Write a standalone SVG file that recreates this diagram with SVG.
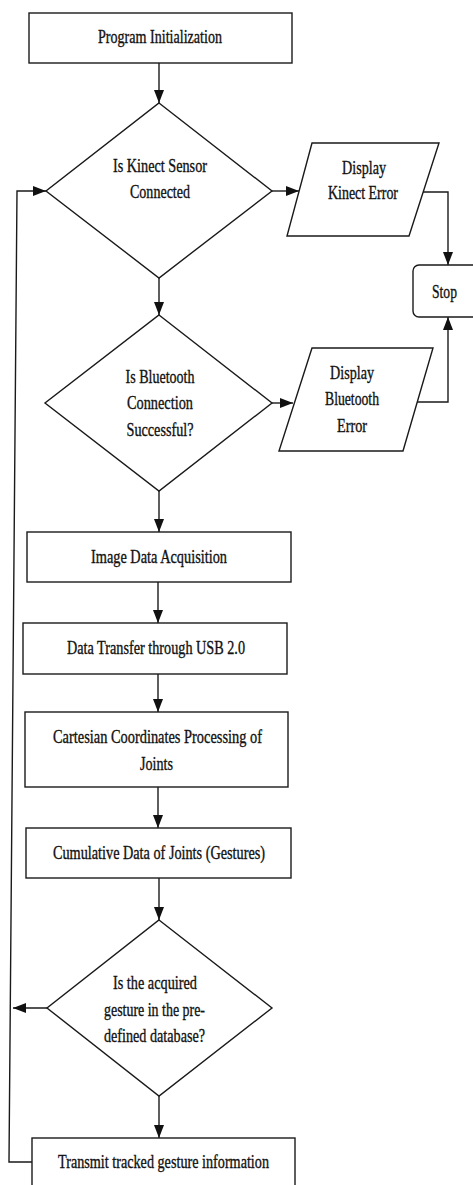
<svg xmlns="http://www.w3.org/2000/svg" width="473" height="1185" viewBox="0 0 473 1185">
<style>
.s{fill:#fff;stroke:#1a1a1a;stroke-width:1.4}
.c{fill:none;stroke:#1a1a1a;stroke-width:1.4}
.t{font-family:"Liberation Serif","Times New Roman",serif;font-size:19px;fill:#111;stroke:#111;stroke-width:0.35;text-anchor:middle}
</style>
<defs>
<marker id="ah" markerUnits="userSpaceOnUse" markerWidth="14" markerHeight="11" refX="13" refY="5" orient="auto">
<path d="M0,0 L13,5 L0,10 z" fill="#111"/>
</marker>
</defs>
<rect width="473" height="1185" fill="#fff"/>
<g id="connectors">
<line class="c" x1="159" y1="63" x2="159" y2="103" marker-end="url(#ah)"/>
<line class="c" x1="159" y1="278" x2="159" y2="315" marker-end="url(#ah)"/>
<line class="c" x1="272" y1="191" x2="299" y2="191" marker-end="url(#ah)"/>
<line class="c" x1="272" y1="403" x2="293" y2="403" marker-end="url(#ah)"/>
<polyline class="c" points="423,192 448,192 448,265" marker-end="url(#ah)"/>
<polyline class="c" points="417,402 448,402 448,317" marker-end="url(#ah)"/>
<line class="c" x1="159" y1="491" x2="159" y2="532" marker-end="url(#ah)"/>
<line class="c" x1="158" y1="582" x2="158" y2="623" marker-end="url(#ah)"/>
<line class="c" x1="158" y1="674" x2="158" y2="712" marker-end="url(#ah)"/>
<line class="c" x1="158" y1="787" x2="158" y2="828" marker-end="url(#ah)"/>
<line class="c" x1="159" y1="878" x2="159" y2="920" marker-end="url(#ah)"/>
<line class="c" x1="159" y1="1096" x2="159" y2="1138" marker-end="url(#ah)"/>
<line class="c" x1="47" y1="1008" x2="13" y2="1008" marker-end="url(#ah)"/>
<polyline class="c" points="32,1162 9,1162 17,191 46,191" marker-end="url(#ah)"/>
</g>
<g id="n-init">
<rect class="s" x="29" y="13" width="263" height="50"/>
<text class="t" x="160" y="43" textLength="124" lengthAdjust="spacingAndGlyphs">Program Initialization</text>
</g>
<g id="n-kinect">
<polygon class="s" points="159,103 272,191 159,278 46,191"/>
<text class="t" x="160" y="172" textLength="94" lengthAdjust="spacingAndGlyphs">Is Kinect Sensor</text>
<text class="t" x="160" y="198" textLength="60" lengthAdjust="spacingAndGlyphs">Connected</text>
</g>
<g id="n-kinect-err">
<polygon class="s" points="312,143 439,143 409,236 287,236"/>
<text class="t" x="364" y="174" textLength="44" lengthAdjust="spacingAndGlyphs">Display</text>
<text class="t" x="363" y="199" textLength="70" lengthAdjust="spacingAndGlyphs">Kinect Error</text>
</g>
<g id="n-stop">
<rect class="s" x="413" y="265" width="66" height="52" rx="6"/>
<text class="t" x="444.5" y="298" textLength="25" lengthAdjust="spacingAndGlyphs">Stop</text>
</g>
<g id="n-bt">
<polygon class="s" points="159,315 272,403 159,491 45,403"/>
<text class="t" x="160" y="383" textLength="69" lengthAdjust="spacingAndGlyphs">Is Bluetooth</text>
<text class="t" x="160" y="409" textLength="66" lengthAdjust="spacingAndGlyphs">Connection</text>
<text class="t" x="160" y="436" textLength="67" lengthAdjust="spacingAndGlyphs">Successful?</text>
</g>
<g id="n-bt-err">
<polygon class="s" points="312,348 433,348 403,451 279,451"/>
<text class="t" x="352" y="379" textLength="44" lengthAdjust="spacingAndGlyphs">Display</text>
<text class="t" x="352" y="405" textLength="54" lengthAdjust="spacingAndGlyphs">Bluetooth</text>
<text class="t" x="352" y="432" textLength="30" lengthAdjust="spacingAndGlyphs">Error</text>
</g>
<g id="n-image">
<rect class="s" x="27" y="532" width="264" height="50"/>
<text class="t" x="159" y="563" textLength="136" lengthAdjust="spacingAndGlyphs">Image Data Acquisition</text>
</g>
<g id="n-usb">
<rect class="s" x="23" y="623" width="264" height="51"/>
<text class="t" x="156" y="654" textLength="178" lengthAdjust="spacingAndGlyphs">Data Transfer through USB 2.0</text>
</g>
<g id="n-cartesian">
<rect class="s" x="25" y="712" width="263" height="75"/>
<text class="t" x="157.5" y="743" textLength="209" lengthAdjust="spacingAndGlyphs">Cartesian Coordinates Processing of</text>
<text class="t" x="156.5" y="770" textLength="33" lengthAdjust="spacingAndGlyphs">Joints</text>
</g>
<g id="n-cumulative">
<rect class="s" x="26" y="828" width="265" height="50"/>
<text class="t" x="159" y="859" textLength="212" lengthAdjust="spacingAndGlyphs">Cumulative Data of Joints (Gestures)</text>
</g>
<g id="n-gesture">
<polygon class="s" points="159,920 272,1008 159,1096 47,1008"/>
<text class="t" x="155" y="989" textLength="84" lengthAdjust="spacingAndGlyphs">Is the acquired</text>
<text class="t" x="154.5" y="1016" textLength="101" lengthAdjust="spacingAndGlyphs">gesture in the pre-</text>
<text class="t" x="154.5" y="1042" textLength="101" lengthAdjust="spacingAndGlyphs">defined database?</text>
</g>
<g id="n-transmit">
<rect class="s" x="32" y="1138" width="263" height="60"/>
<text class="t" x="163.5" y="1168" textLength="211" lengthAdjust="spacingAndGlyphs">Transmit tracked gesture information</text>
</g>
</svg>
